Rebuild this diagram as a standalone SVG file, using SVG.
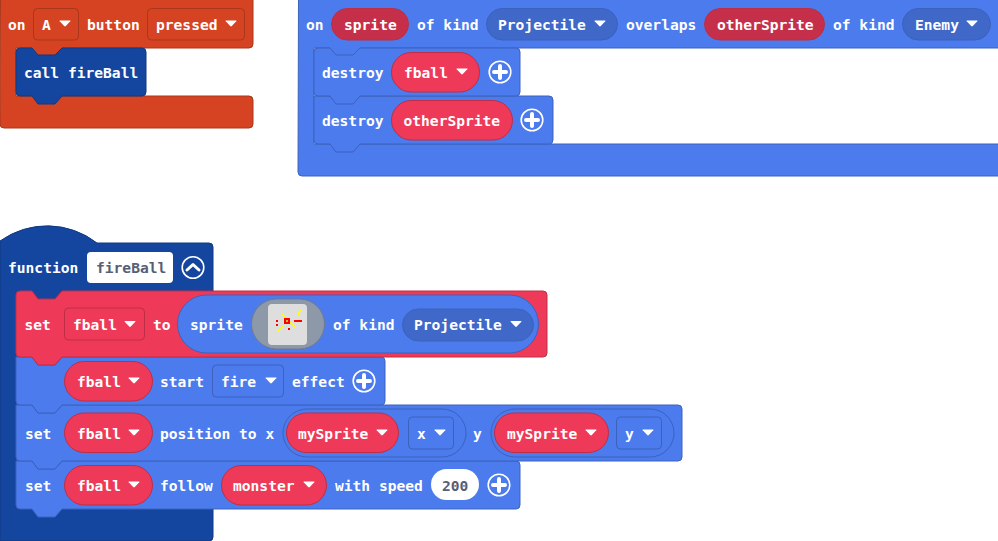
<svg xmlns="http://www.w3.org/2000/svg" width="998" height="541" viewBox="0 0 998 541">
<style>
text{font-family:"DejaVu Sans Mono","Liberation Mono",monospace;font-weight:700;font-size:14.6px;fill:#fff}
.dark{fill:#575E75}
.org{fill:#D54322;stroke:#AA361B}
.fn{fill:#14469F;stroke:#103880}
.spr{fill:#4B7BEC;stroke:#3C62BD}
.red{fill:#EE3A58;stroke:#BE2E46}
.reddk{fill:#C62F4A;stroke:#BE2E46}
.sprdk{fill:#3F68C8;stroke:#3C62BD}
.orgdk{fill:#D54322;stroke:#AA361B}
.wh{fill:#fff}
.icon{fill:none;stroke:#fff;stroke-width:1.6}
</style>
<defs>
<path id="arrow" d="M-5,-3 H5 Q5.8,-3 5.3,-2.2 L0.8,2.6 Q0,3.2 -0.8,2.6 L-5.3,-2.2 Q-5.8,-3 -5,-3Z" fill="#fff"/>
<g id="plus"><circle r="10.8" class="icon"/><path d="M0,-6V6M-6,0H6" stroke="#fff" stroke-width="4" stroke-linecap="round" fill="none"/></g>
<g id="chev"><circle r="10.8" class="icon"/><path d="M-6,2.500L0,-3L6,2.500" stroke="#fff" stroke-width="3" stroke-linecap="round" stroke-linejoin="round" fill="none"/></g>
</defs>

<g id="connectors"></g>

<g id="on-a-button">
<path class="org" d="M0.500,-5H249.500a3.500,3.500 0 0 1 3.500,3.500V44a4,4 0 0 1 -4,4H62L55,56H38L32,48H16V96H249a4,4 0 0 1 4,4V124a4,4 0 0 1 -4,4H4a4,4 0 0 1 -4,-4Z"/>
<text x="8" y="30">on</text>
<rect class="orgdk" x="33.500" y="8.500" width="45" height="31.500" rx="4"/>
<text x="42" y="30">A</text><use href="#arrow" x="65" y="23.500"/>
<text x="87" y="30">button</text>
<rect class="orgdk" x="147.500" y="8.500" width="97" height="31.500" rx="4"/>
<text x="156" y="30">pressed</text><use href="#arrow" x="231" y="23.500"/>
</g>
<g id="call-fireball">
<path class="fn" d="M16,52a4,4 0 0 1 4,-4H32L38,55H55L62,48H142a4,4 0 0 1 4,4V92a4,4 0 0 1 -4,4H62L55,104H38L32,96H20a4,4 0 0 1 -4,-4Z"/>
<text x="24" y="78">call fireBall</text>
</g>

<g id="on-overlap">
<path class="spr" d="M298.500,-5H1003V48H360L353,56H336L330,48H314V144H1003V176H302a4,4 0 0 1 -4,-4Z"/>
<text x="306" y="30">on</text>
<rect class="reddk" x="331.500" y="8.500" width="77" height="31.500" rx="15.750"/>
<text x="344" y="30">sprite</text>
<text x="417" y="30">of kind</text>
<rect class="sprdk" x="486.500" y="8.500" width="131" height="31.500" rx="15.750"/>
<text x="498" y="30">Projectile</text><use href="#arrow" x="600" y="23.500"/>
<text x="626" y="30">overlaps</text>
<rect class="reddk" x="704.500" y="8.500" width="120" height="31.500" rx="15.750"/>
<text x="717" y="30">otherSprite</text>
<text x="833" y="30">of kind</text>
<rect class="sprdk" x="902.500" y="8.500" width="88" height="31.500" rx="15.750"/>
<text x="915" y="30">Enemy</text><use href="#arrow" x="972" y="23.500"/>
</g>
<g id="destroy-othersprite">
<path class="spr" d="M314,96H330L336,103H353L360,96H549a4,4 0 0 1 4,4V140a4,4 0 0 1 -4,4H360L353,152H336L330,144H318a4,4 0 0 1 -4,-4Z"/>
<text x="322" y="126">destroy</text>
<rect class="red" x="391.500" y="100.500" width="121" height="39.500" rx="19.750"/>
<text x="403.500" y="126">otherSprite</text>
<use href="#plus" x="532" y="120"/>
</g>
<g id="destroy-fball">
<path class="spr" d="M314,52a4,4 0 0 1 4,-4H330L336,55H353L360,48H516a4,4 0 0 1 4,4V92a4,4 0 0 1 -4,4H360L353,104H336L330,96H318a4,4 0 0 1 -4,-4Z"/>
<text x="322" y="78">destroy</text>
<rect class="red" x="391.500" y="52.500" width="88" height="39.500" rx="19.750"/>
<text x="404" y="78">fball</text><use href="#arrow" x="462" y="71.500"/>
<use href="#plus" x="500" y="72"/>
</g>

<g id="function-fireball">
<path class="fn" d="M0,241A81,81 0 0 1 97,243H209a4,4 0 0 1 4,4V537a4,4 0 0 1 -4,4H0Z"/>
<text x="8" y="273">function</text>
<rect class="wh" x="87" y="252" width="86" height="31" rx="4"/>
<text class="dark" x="96" y="273">fireBall</text>
<use href="#chev" x="193" y="267.500"/>
</g>

<g id="follow">
<path class="spr" d="M16,461H32L38,469H55L62,461H516a4,4 0 0 1 4,4V505a4,4 0 0 1 -4,4H62L55,517H38L32,509H20a4,4 0 0 1 -4,-4Z"/>
<text x="25" y="491">set</text>
<rect class="red" x="64.500" y="465.500" width="88" height="39.500" rx="19.750"/>
<text x="77" y="491">fball</text><use href="#arrow" x="134" y="484.500"/>
<text x="160" y="491">follow</text>
<rect class="red" x="221.500" y="465.500" width="105" height="39.500" rx="19.750"/>
<text x="233" y="491">monster</text><use href="#arrow" x="309" y="484.500"/>
<text x="335" y="491">with speed</text>
<rect class="wh" x="431" y="469" width="48" height="31" rx="15.500"/>
<text class="dark" x="442" y="491">200</text>
<use href="#plus" x="499" y="485"/>
</g>
<g id="position">
<path class="spr" d="M16,405H32L38,413H55L62,405H678a4,4 0 0 1 4,4V457a4,4 0 0 1 -4,4H62L55,469H38L32,461H20a4,4 0 0 1 -4,-4Z"/>
<text x="25" y="439">set</text>
<rect class="red" x="64.500" y="413" width="88" height="39.500" rx="19.750"/>
<text x="77" y="439">fball</text><use href="#arrow" x="134" y="432.500"/>
<text x="160" y="439">position to x</text>
<rect class="spr" x="283" y="409" width="183" height="48" rx="24"/>
<rect class="red" x="286.500" y="413" width="112" height="39.500" rx="19.750"/>
<text x="298" y="439">mySprite</text><use href="#arrow" x="382" y="432.500"/>
<rect class="spr" x="408.500" y="417" width="45" height="32" rx="4"/>
<text x="417" y="439">x</text><use href="#arrow" x="440" y="432.500"/>
<text x="473" y="439">y</text>
<rect class="spr" x="491" y="409" width="183" height="48" rx="24"/>
<rect class="red" x="494.500" y="413" width="114" height="39.500" rx="19.750"/>
<text x="507" y="439">mySprite</text><use href="#arrow" x="591" y="432.500"/>
<rect class="spr" x="616.500" y="417" width="45" height="32" rx="4"/>
<text x="625" y="439">y</text><use href="#arrow" x="648" y="432.500"/>
</g>
<g id="start-effect">
<path class="spr" d="M16,357H32L38,365H55L62,357H381a4,4 0 0 1 4,4V401a4,4 0 0 1 -4,4H62L55,413H38L32,405H20a4,4 0 0 1 -4,-4Z"/>
<rect class="red" x="64.500" y="361.500" width="88" height="39.500" rx="19.750"/>
<text x="77" y="387">fball</text><use href="#arrow" x="134" y="380.500"/>
<text x="160" y="387">start</text>
<rect class="spr" x="212.500" y="365" width="71" height="32" rx="4"/>
<text x="221" y="387">fire</text><use href="#arrow" x="271" y="380.500"/>
<text x="292" y="387">effect</text>
<use href="#plus" x="364" y="381"/>
</g>
<g id="set-fball">
<path class="red" d="M16,295a4,4 0 0 1 4,-4H32L38,299H55L62,291H543a4,4 0 0 1 4,4V353a4,4 0 0 1 -4,4H62L55,365H38L32,357H20a4,4 0 0 1 -4,-4Z"/>
<text x="24.500" y="330">set</text>
<rect class="red" x="64.500" y="308" width="80" height="32" rx="4"/>
<text x="73" y="330">fball</text><use href="#arrow" x="130" y="324"/>
<text x="153" y="330">to</text>
<rect class="spr" x="177.500" y="295" width="361" height="58" rx="29"/>
<text x="190" y="330">sprite</text>
<rect x="251.500" y="299" width="73" height="50" rx="25" fill="#8D98A8" stroke="#6F7C8F"/>
<rect x="268" y="304" width="39" height="41" rx="4" fill="#DEDEDE"/>
<g fill="#f00"><rect x="284" y="318" width="6" height="6"/><rect x="294" y="320" width="8" height="2"/><rect x="276" y="320" width="2" height="2"/><rect x="276" y="324" width="2" height="2"/><rect x="288" y="328" width="2" height="2"/></g>
<rect x="286" y="320" width="2" height="2" fill="#9c3"/>
<g fill="#ff0"><rect x="282" y="314" width="2" height="2"/><rect x="284" y="316" width="2" height="2"/><rect x="300" y="310" width="2" height="2"/><rect x="298" y="312" width="2" height="4"/><rect x="282" y="326" width="2" height="2"/><rect x="280" y="328" width="2" height="2"/><rect x="278" y="330" width="2" height="2"/><rect x="290" y="322" width="2" height="2"/><rect x="292" y="324" width="2" height="2"/><rect x="294" y="326" width="2" height="2"/></g>
<text x="333" y="330">of kind</text>
<rect class="sprdk" x="402.500" y="309" width="131" height="32" rx="16"/>
<text x="414" y="330">Projectile</text><use href="#arrow" x="516" y="324"/>
</g>
</svg>
